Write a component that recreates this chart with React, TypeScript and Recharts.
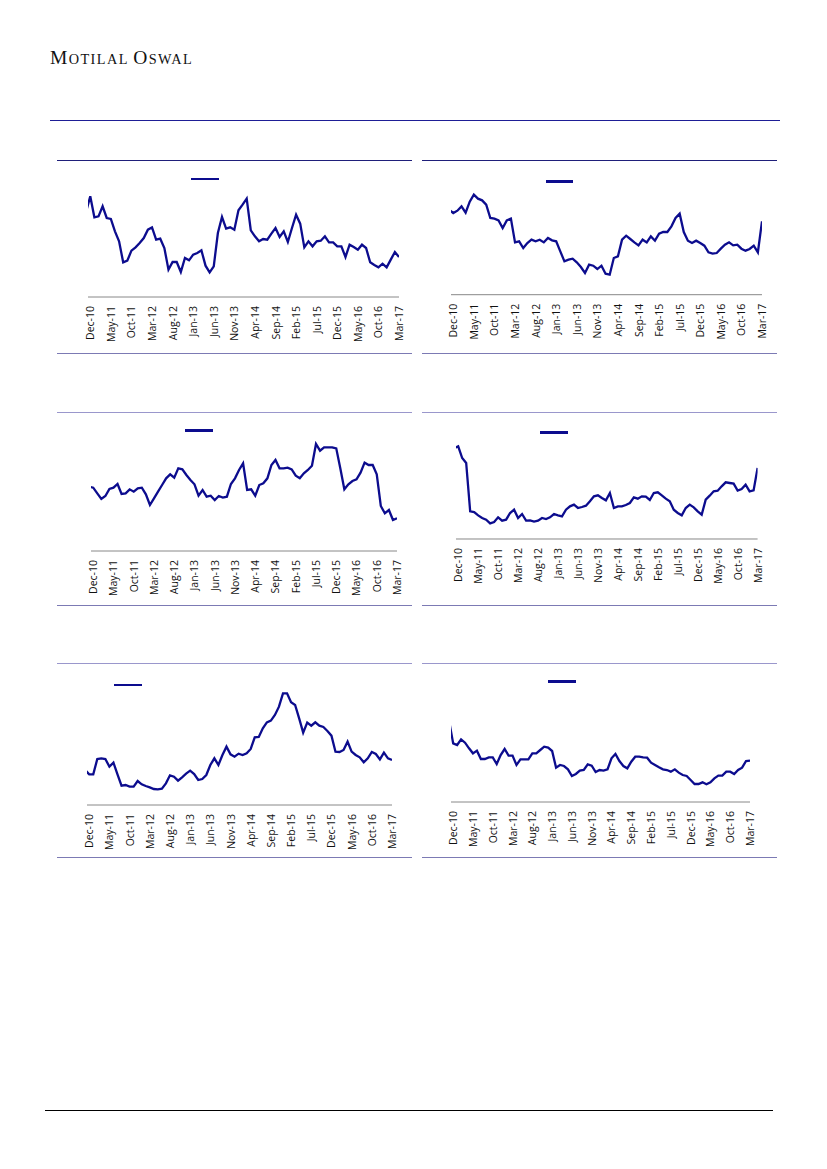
import React from "react";
import { LineChart, Line, XAxis, YAxis } from "recharts";

// monthly categories, Nov-10 (clipped at the axis) .. Mar-17
const months = [
  "Nov-10", "Dec-10",
  "Jan-11", "Feb-11", "Mar-11", "Apr-11", "May-11", "Jun-11", "Jul-11", "Aug-11", "Sep-11", "Oct-11", "Nov-11", "Dec-11",
  "Jan-12", "Feb-12", "Mar-12", "Apr-12", "May-12", "Jun-12", "Jul-12", "Aug-12", "Sep-12", "Oct-12", "Nov-12", "Dec-12",
  "Jan-13", "Feb-13", "Mar-13", "Apr-13", "May-13", "Jun-13", "Jul-13", "Aug-13", "Sep-13", "Oct-13", "Nov-13", "Dec-13",
  "Jan-14", "Feb-14", "Mar-14", "Apr-14", "May-14", "Jun-14", "Jul-14", "Aug-14", "Sep-14", "Oct-14", "Nov-14", "Dec-14",
  "Jan-15", "Feb-15", "Mar-15", "Apr-15", "May-15", "Jun-15", "Jul-15", "Aug-15", "Sep-15", "Oct-15", "Nov-15", "Dec-15",
  "Jan-16", "Feb-16", "Mar-16", "Apr-16", "May-16", "Jun-16", "Jul-16", "Aug-16", "Sep-16", "Oct-16", "Nov-16", "Dec-16",
  "Jan-17", "Feb-17", "Mar-17",
];

const tickLabels = [
  "Dec-10", "May-11", "Oct-11", "Mar-12", "Aug-12", "Jan-13", "Jun-13", "Nov-13",
  "Apr-14", "Sep-14", "Feb-15", "Jul-15", "Dec-15", "May-16", "Oct-16", "Mar-17",
];

const topLeft = [
  25.7, 30.2, 23.9, 24.2, 27.2, 23.7, 23.4, 19.7, 16.7, 10.4, 10.9,
  13.9, 14.9, 16.2, 17.7, 20.2, 20.9, 17.2, 17.5, 14.7, 8.2,
  10.5, 10.5, 7.5, 11.7, 11.0, 12.7, 13.2, 14.0, 9.4, 7.4,
  9.2, 19.2, 24.0, 20.5, 20.9, 20.2, 26.0, 27.7, 29.5, 20.0,
  18.2, 16.7, 17.4, 17.2, 19.0, 20.7, 18.0, 19.7, 16.5, 20.7,
  24.7, 22.0, 14.9, 16.7, 15.2, 16.7, 16.9, 18.2, 16.4, 16.4,
  15.2, 15.2, 12.0, 15.7, 15.0, 14.2, 15.7, 14.7, 10.4, 9.6,
  8.9, 10.0, 8.9, 11.2, 13.5, 12.0,
];

const topRight = [
  25.5, 24.5, 25.2, 26.5, 24.6, 27.9, 30.0, 28.8, 28.3, 27.0, 23.0,
  22.8, 22.3, 20.0, 22.3, 22.8, 15.7, 16.0, 14.0, 15.5, 16.5,
  16.0, 16.5, 15.7, 17.0, 16.3, 16.0, 13.0, 10.0, 10.5, 10.8,
  9.7, 8.3, 6.5, 9.0, 8.7, 7.7, 8.7, 6.3, 6.0, 11.0,
  11.5, 16.5, 17.7, 16.7, 15.7, 14.8, 16.5, 15.7, 17.5, 16.2,
  18.3, 18.8, 18.8, 20.5, 23.0, 24.3, 18.8, 16.2, 15.5, 16.2,
  15.5, 14.7, 12.7, 12.3, 12.5, 13.8, 15.0, 15.7, 14.8, 15.0,
  13.8, 13.2, 13.7, 14.7, 12.7, 22.0,
];

const midLeft = [
  19.3, 19.0, 17.3, 15.6, 16.5, 18.6, 19.0, 20.1, 17.1, 17.3, 18.5,
  17.8, 18.8, 19.0, 17.0, 13.8, 15.8, 17.8, 19.8, 21.8, 23.0,
  22.0, 24.8, 24.5, 22.8, 21.3, 20.0, 16.6, 18.3, 16.3, 16.6,
  15.3, 16.5, 16.0, 16.3, 20.1, 21.8, 24.3, 26.3, 18.3, 18.5,
  16.6, 19.8, 20.3, 21.8, 25.8, 27.3, 24.8, 24.8, 25.0, 24.5,
  22.6, 21.8, 23.3, 24.3, 25.6, 32.1, 30.1, 31.1, 31.1, 31.1,
  30.8, 24.8, 18.5, 20.0, 21.0, 21.5, 23.5, 26.5, 25.8, 25.8,
  23.0, 13.5, 11.3, 12.3, 9.3, 9.8,
];

const midRight = [
  27.3, 27.8, 24.3, 22.8, 8.3, 8.1, 7.1, 6.3, 5.8, 4.7, 5.1,
  6.5, 5.5, 5.8, 7.8, 8.8, 6.3, 7.5, 5.5, 5.6, 5.2,
  5.5, 6.3, 6.0, 6.5, 7.5, 7.1, 6.8, 8.8, 9.8, 10.3,
  9.3, 9.6, 10.0, 11.3, 12.8, 13.1, 12.3, 11.6, 13.8, 9.3,
  9.8, 9.8, 10.2, 10.8, 12.5, 12.1, 12.8, 12.7, 11.7, 13.8,
  14.0, 13.1, 12.1, 11.3, 8.8, 7.8, 7.1, 9.3, 10.3, 9.5,
  8.3, 7.3, 11.8, 13.0, 14.3, 14.5, 15.8, 17.0, 16.8, 16.6,
  14.5, 15.0, 16.3, 14.3, 14.6, 21.3,
];

const lowLeft = [
  10.5, 9.2, 9.2, 13.8, 14.0, 13.8, 11.5, 12.7, 9.2, 5.8, 6.0,
  5.5, 5.5, 7.2, 6.2, 5.7, 5.3, 4.8, 4.7, 4.9, 6.5,
  8.9, 8.5, 7.3, 8.3, 9.4, 10.3, 9.3, 7.5, 7.8, 9.0,
  12.0, 14.0, 12.0, 15.0, 17.5, 15.2, 14.5, 15.4, 15.0, 15.5,
  16.8, 20.3, 20.4, 23.0, 24.8, 25.3, 27.0, 29.5, 33.5, 33.5,
  30.8, 30.0, 26.0, 21.7, 24.7, 23.8, 24.8, 23.8, 23.4, 22.2,
  20.8, 16.0, 15.9, 16.5, 19.0, 16.0, 15.0, 14.3, 12.8, 14.0,
  15.9, 15.3, 13.7, 15.7, 14.0, 13.5,
];

const lowRight = [
  24.1, 17.6, 17.1, 18.8, 17.8, 16.1, 14.6, 15.4, 12.9, 12.9, 13.4,
  13.4, 11.4, 14.1, 15.9, 13.9, 13.9, 11.1, 12.8, 12.8, 12.8,
  14.6, 14.6, 15.6, 16.6, 16.3, 15.3, 10.3, 11.1, 10.8, 9.8,
  7.8, 8.4, 9.4, 9.6, 11.3, 10.9, 9.0, 9.6, 9.4, 9.8,
  13.1, 14.4, 12.3, 10.8, 10.1, 12.1, 13.6, 13.6, 13.4, 13.3,
  11.8, 11.1, 10.4, 9.8, 9.6, 9.1, 9.8, 8.8, 8.1, 7.8,
  6.6, 5.4, 5.4, 5.9, 5.3, 5.9, 7.1, 7.9, 7.9, 9.1,
  9.1, 8.4, 9.6, 10.3, 12.3, 12.4,
];

const LINE = "#0c0c8e";
const AXIS = "#888888";
const tickIdx = tickLabels.map((t) => months.indexOf(t) - 1);

const RotatedTick = (props: any) => {
  const { x, y, payload } = props;
  return (
    <text
      transform={`translate(${x},${y + 9}) rotate(-90)`}
      textAnchor="end"
      dominantBaseline="central"
      fontSize={10.5}
      fontFamily="'Open Sans', sans-serif"
      fill="#111"
    >
      {months[payload.value + 1]}
    </text>
  );
};

interface Box { left: number; right: number; top: number; bottom: number }

function MiniChart({ values, box, yMax, legend }: { values: number[]; box: Box; yMax: number; legend: number[] }) {
  const data = months.map((m, k) => ({ idx: k - 1, month: m, v: values[k] }));
  const mx = 10;
  const my = 2;
  const w = box.right - box.left + 2 * mx;
  const h = box.bottom - box.top + my + 52;
  return (
    <>
      <div style={{ position: "absolute", left: box.left - mx, top: box.top - my }}>
        <LineChart width={w} height={h} data={data} margin={{ top: my, right: mx, bottom: 0, left: mx }}>
          <XAxis
            type="number"
            dataKey="idx"
            domain={[-0.55, 75]}
            allowDataOverflow
            ticks={tickIdx}
            interval={0}
            tick={<RotatedTick />}
            tickLine={false}
            tickSize={0}
            tickMargin={0}
            height={52}
            axisLine={{ stroke: AXIS }}
          />
          <YAxis domain={[0, yMax]} allowDataOverflow width={0} tick={false} tickLine={false} axisLine={{ stroke: AXIS }} />
          <Line type="linear" dataKey="v" stroke={LINE} strokeWidth={2.3} dot={false} isAnimationActive={false} />
        </LineChart>
      </div>
      {/* legend key (label text is not shown in the source) */}
      <div
        style={{
          position: "absolute",
          left: legend[0],
          top: legend[2] - 1.25,
          width: legend[1] - legend[0],
          height: 2.5,
          background: LINE,
        }}
      />
    </>
  );
}

export default function App() {
  return (
    <div style={{ position: "absolute", left: 0, top: 0, width: 827, height: 1169, background: "#fff" }}>
      <svg width={827} height={1169} style={{ position: "absolute", left: 0, top: 0 }}>
        <text x={50} y={64.3} fontFamily="'Liberation Serif', serif" fill="#111" letterSpacing={1.4}>
          <tspan fontSize={19.5}>M</tspan>
          <tspan fontSize={14.3}>OTILAL </tspan>
          <tspan fontSize={19.5}>O</tspan>
          <tspan fontSize={14.3}>SWAL</tspan>
        </text>
        <line x1={50} x2={780} y1={120.5} y2={120.5} stroke="#1e1e96" strokeWidth={1.2} />

        <line x1={57} x2={412} y1={160.5} y2={160.5} stroke="#1f1f7a" />
        <line x1={422} x2={777} y1={160.5} y2={160.5} stroke="#1f1f7a" />
        <line x1={57} x2={412} y1={353.5} y2={353.5} stroke="#7c7ab4" />
        <line x1={422} x2={777} y1={353.5} y2={353.5} stroke="#7c7ab4" />

        <line x1={57} x2={412} y1={412.5} y2={412.5} stroke="#9a97cc" />
        <line x1={422} x2={777} y1={412.5} y2={412.5} stroke="#9a97cc" />
        <line x1={57} x2={412} y1={605.5} y2={605.5} stroke="#7c7ab4" />
        <line x1={422} x2={777} y1={605.5} y2={605.5} stroke="#7c7ab4" />

        <line x1={57} x2={412} y1={663.5} y2={663.5} stroke="#9a97cc" />
        <line x1={422} x2={777} y1={663.5} y2={663.5} stroke="#9a97cc" />
        <line x1={57} x2={412} y1={857.5} y2={857.5} stroke="#7c7ab4" />
        <line x1={422} x2={777} y1={857.5} y2={857.5} stroke="#7c7ab4" />

        <line x1={45} x2={773} y1={1110.5} y2={1110.5} stroke="#000" strokeWidth={1} />
      </svg>

      <MiniChart values={topLeft} box={{ left: 88.3, right: 399.3, top: 184.3, bottom: 297.3 }} yMax={33.9} legend={[191, 219, 179]} />
      <MiniChart values={topRight} box={{ left: 451.3, right: 762.3, top: 188.3, bottom: 295 }} yMax={32} legend={[546, 573, 181.7]} />
      <MiniChart values={midLeft} box={{ left: 90.7, right: 396.7, top: 440, bottom: 551 }} yMax={33.3} legend={[185, 213, 430.7]} />
      <MiniChart values={midRight} box={{ left: 455.7, right: 757.3, top: 433.3, bottom: 539.3 }} yMax={31.8} legend={[540, 568, 432.3]} />
      <MiniChart values={lowLeft} box={{ left: 86.7, right: 391.7, top: 691, bottom: 805 }} yMax={34.2} legend={[114, 142, 685]} />
      <MiniChart values={lowRight} box={{ left: 451.3, right: 750.3, top: 675, bottom: 802 }} yMax={38.1} legend={[548, 576, 681.7]} />
    </div>
  );
}
